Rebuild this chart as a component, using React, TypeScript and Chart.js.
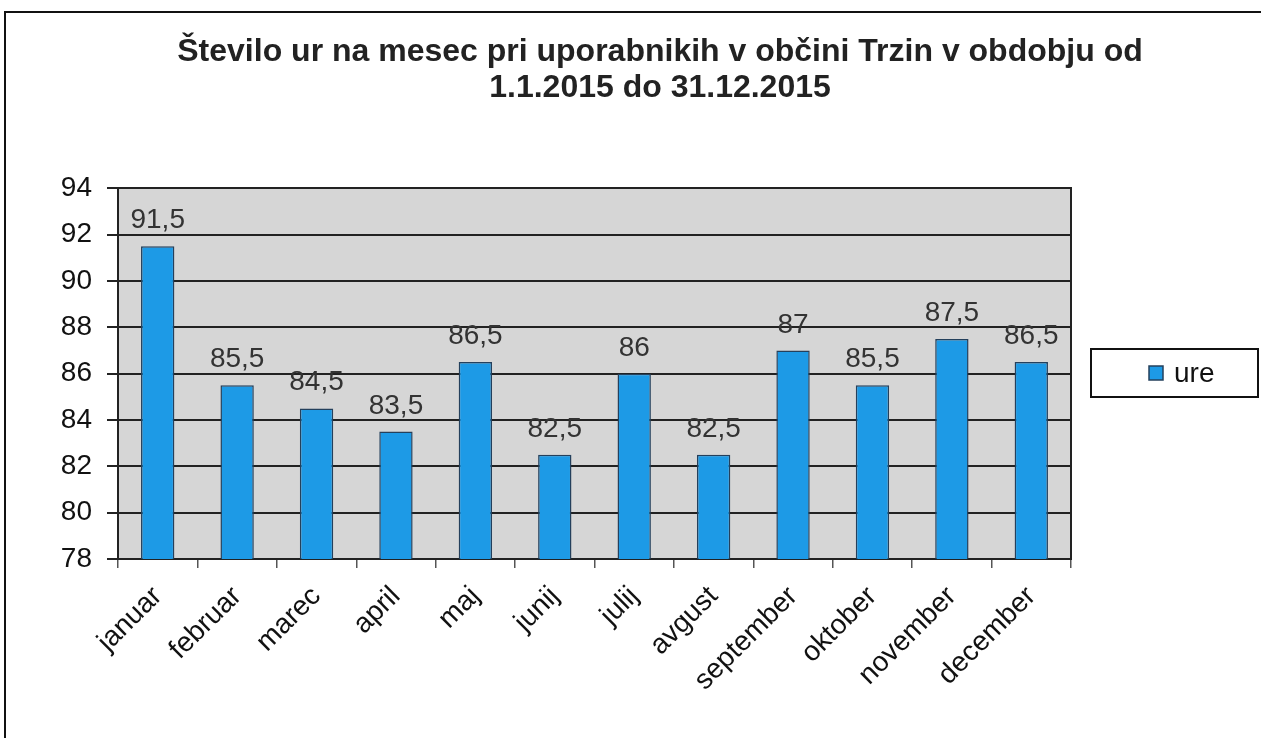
import React, { useEffect, useRef } from "react";
import { Chart, registerables } from "chart.js";

Chart.register(...registerables);

const titleLines = [
  "Število ur na mesec pri uporabnikih v občini Trzin v obdobju od",
  "1.1.2015 do 31.12.2015",
];
const categories = [
  "januar", "februar", "marec", "april", "maj", "junij",
  "julij", "avgust", "september", "oktober", "november", "december",
];
const ureValues = [91.5, 85.5, 84.5, 83.5, 86.5, 82.5, 86, 82.5, 87, 85.5, 87.5, 86.5];
const seriesName = "ure";
const yMin = 78;
const yMax = 94;
const yStep = 2;

const FONT = "'Liberation Sans', Arial, sans-serif";
const BAR_COLOR = "#1d9ae6";
const BAR_BORDER = "#24405c";

const decorPlugin = {
  id: "decor",
  beforeDraw(chart: any) {
    const { ctx, chartArea } = chart;
    ctx.save();
    ctx.fillStyle = "#ffffff";
    ctx.fillRect(0, 0, chart.width, chart.height);
    ctx.fillStyle = "#d6d6d6";
    ctx.fillRect(chartArea.left, chartArea.top, chartArea.right - chartArea.left, chartArea.bottom - chartArea.top);
    // outer frame
    ctx.strokeStyle = "#111";
    ctx.lineWidth = 2;
    ctx.beginPath();
    ctx.moveTo(5, chart.height);
    ctx.lineTo(5, 12);
    ctx.lineTo(chart.width, 12);
    ctx.stroke();
    ctx.restore();
  },
  afterDatasetsDraw(chart: any) {
    const { ctx } = chart;
    const meta = chart.getDatasetMeta(0);
    ctx.save();
    ctx.font = `28px ${FONT}`;
    ctx.fillStyle = "#333";
    ctx.textAlign = "center";
    ctx.textBaseline = "alphabetic";
    meta.data.forEach((el: any, i: number) => {
      const v = chart.data.datasets[0].data[i];
      ctx.fillText(String(v).replace(".", ","), el.x, el.y - 18);
    });
    ctx.restore();
  },
  afterDraw(chart: any) {
    const { ctx } = chart;
    ctx.save();
    // legend box
    ctx.strokeStyle = "#111";
    ctx.lineWidth = 2;
    ctx.strokeRect(1091, 349, 167, 48);
    ctx.fillStyle = BAR_COLOR;
    ctx.fillRect(1149, 366, 14, 14);
    ctx.strokeStyle = BAR_BORDER;
    ctx.lineWidth = 1.5;
    ctx.strokeRect(1149, 366, 14, 14);
    ctx.fillStyle = "#111";
    ctx.font = `28px ${FONT}`;
    ctx.textAlign = "left";
    ctx.textBaseline = "middle";
    ctx.fillText(seriesName, 1174, 374);
    ctx.restore();
  },
};

export default function App() {
  const ref = useRef<HTMLCanvasElement | null>(null);
  useEffect(() => {
    if (!ref.current) return;
    const chart = new Chart(ref.current, {
      type: "bar",
      data: {
        labels: categories,
        datasets: [
          {
            label: seriesName,
            data: ureValues,
            backgroundColor: BAR_COLOR,
            borderColor: BAR_BORDER,
            borderWidth: 1.5,
            barPercentage: 0.7,
            categoryPercentage: 0.6,
          },
        ],
      },
      options: {
        animation: false,
        responsive: false,
        maintainAspectRatio: false,
        layout: { padding: { top: 10, left: 60, right: 1, bottom: 0 } },
        plugins: {
          legend: { display: false },
          tooltip: { enabled: false },
          title: {
            display: true,
            text: titleLines,
            color: "#222",
            font: { family: FONT, size: 32, weight: "bold", lineHeight: 1.1 },
            padding: { top: 25, bottom: 83 },
          },
        },
        scales: {
          x: {
            grid: { offset: true, drawOnChartArea: false, tickLength: 9, color: "#555", lineWidth: 1.5 },
            border: { color: "#222", width: 2 },
            ticks: {
              maxRotation: 45,
              minRotation: 45,
              color: "#111",
              font: { family: FONT, size: 28 },
              padding: 12,
            },
            afterFit: (s: any) => { s.height = 179; },
          },
          y: {
            min: yMin,
            max: yMax,
            ticks: { stepSize: yStep, color: "#111", font: { family: FONT, size: 28 }, padding: 15 },
            grid: { color: "#222", lineWidth: 2, tickLength: 11 },
            border: { color: "#222", width: 2 },
            afterFit: (s: any) => { s.width = 58; },
          },
          y2: {
            position: "right",
            display: true,
            grid: { display: false },
            ticks: { display: false },
            border: { display: true, color: "#222", width: 2 },
            afterFit: (s: any) => { s.width = 189; },
          },
        },
      },
      plugins: [decorPlugin],
    });
    return () => chart.destroy();
  }, []);
  return (
    <div style={{ position: "fixed", left: 0, top: 0, width: 1261, height: 738, background: "#fff" }}>
      <canvas ref={ref} width={1261} height={738} style={{ display: "block" }} />
    </div>
  );
}
